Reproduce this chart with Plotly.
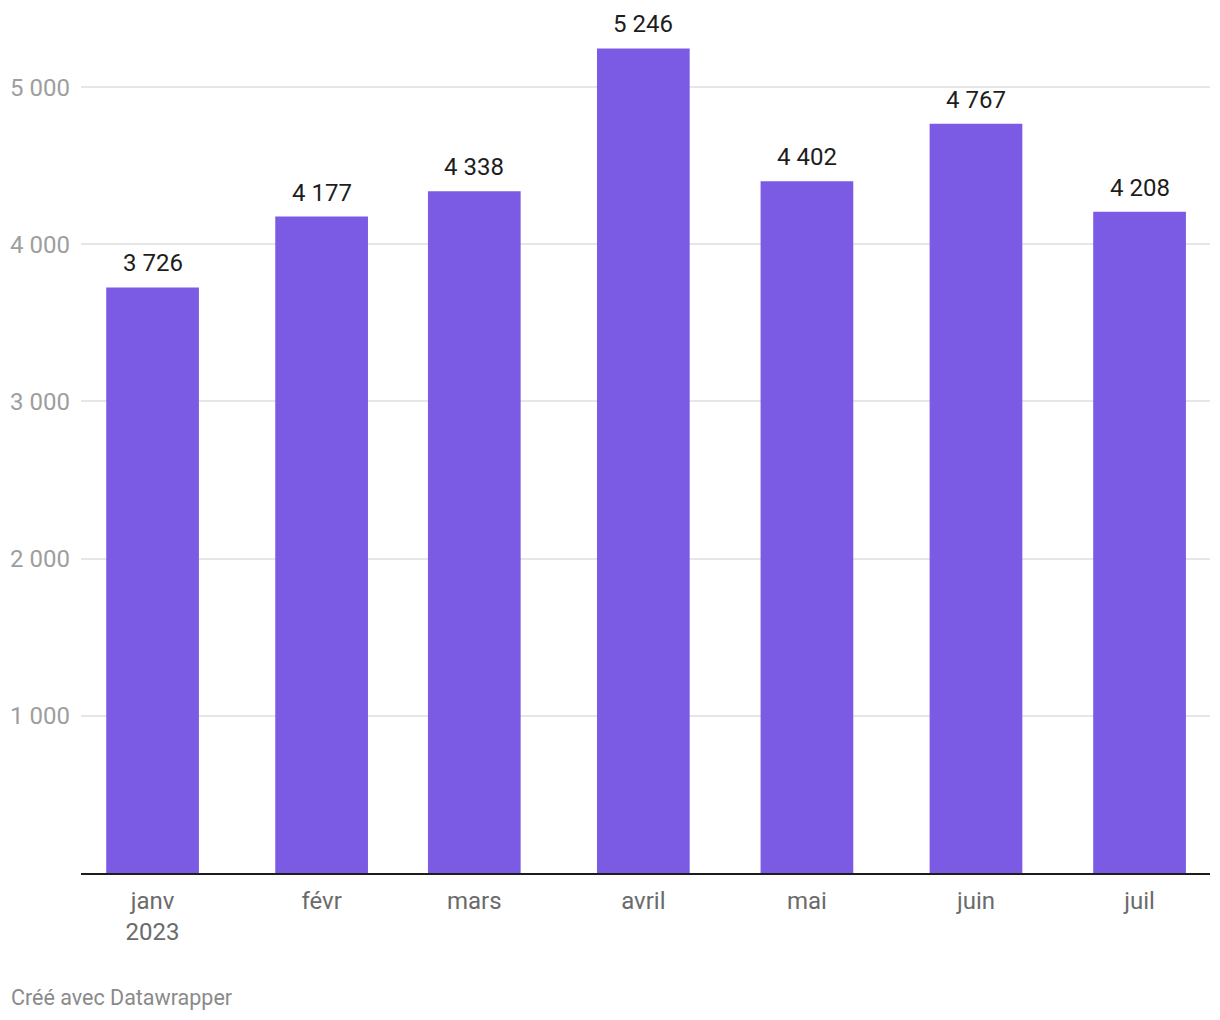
import plotly.graph_objects as go

months = ["2023-01-01", "2023-02-01", "2023-03-01", "2023-04-01", "2023-05-01", "2023-06-01", "2023-07-01"]
month_labels = ["janv<br>2023", "févr", "mars", "avril", "mai", "juin", "juil"]
values = [3726, 4177, 4338, 5246, 4402, 4767, 4208]
y_ticks = [1000, 2000, 3000, 4000, 5000]

DAY = 86400000
BAR_COLOR = "#7b5ae4"

fig = go.Figure()
fig.add_trace(go.Bar(
    x=months, y=values,
    width=[17 * DAY] * len(months),
    marker=dict(color=BAR_COLOR, line=dict(width=0)),
    hoverinfo="skip",
))

for m, v in zip(months, values):
    fig.add_annotation(
        x=m, y=v, text=f"{v:,}".replace(",", " "),
        showarrow=False, yanchor="bottom", yshift=8,
        font=dict(family="Roboto", size=24, color="#1d1d1d"),
    )

fig.add_annotation(
    xref="paper", yref="paper", x=-72/1129, y=-(997-873)/833,
    xanchor="left", yanchor="middle", showarrow=False,
    text="Créé avec Datawrapper",
    font=dict(family="Roboto", size=21.5, color="#8a8a8a"),
)

fig.update_layout(
    width=1220, height=1020,
    margin=dict(l=81, r=10, t=40, b=147),
    plot_bgcolor="white", paper_bgcolor="white",
    separators=", ",
    showlegend=False,
    font=dict(family="Roboto"),
    xaxis=dict(
        type="date",
        range=["2022-12-18 21:00", "2023-07-13 22:00"],
        tickvals=months, ticktext=month_labels,
        showgrid=False, zeroline=False,
        showline=True, linecolor="#1d1d1d", linewidth=2,
        ticks="", ticklabelstandoff=5,
        tickfont=dict(family="Roboto", size=24, color="#6b6b6b"),
        fixedrange=True,
    ),
    yaxis=dict(
        range=[0, 5300],
        tickvals=y_ticks, tickformat=",d",
        showgrid=True, gridcolor="#e6e6e6", gridwidth=2,
        zeroline=False, showline=False, ticks="",
        ticklabelstandoff=10,
        tickfont=dict(family="Roboto", size=24, color="#9e9e9e"),
        fixedrange=True,
    ),
)

fig.write_html("out.html")
